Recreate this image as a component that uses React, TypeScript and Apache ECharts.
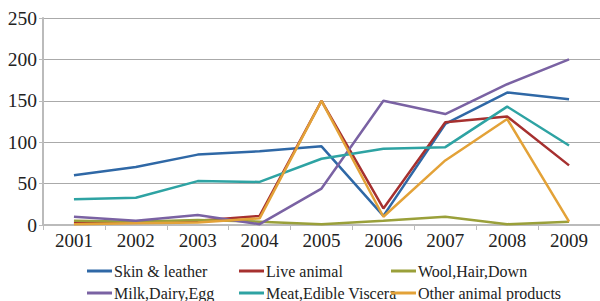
import React, { useEffect, useRef } from "react";
import * as echarts from "echarts";

const years = ["2001", "2002", "2003", "2004", "2005", "2006", "2007", "2008", "2009"];
const skinLeather = [60, 70, 85, 89, 95, 11, 122, 160, 152];
const liveAnimal = [2, 3, 5, 11, 150, 20, 124, 131, 72];
const woolHairDown = [5, 4, 6, 4, 1, 5, 10, 1, 4];
const milkDairyEgg = [10, 5, 12, 1, 44, 150, 134, 170, 200];
const meatViscera = [31, 33, 53, 52, 80, 92, 94, 143, 96];
const otherProducts = [1, 2, 3, 8, 150, 10, 78, 128, 4];

const seriesNames = [
  "Skin & leather",
  "Live animal",
  "Wool,Hair,Down",
  "Milk,Dairy,Egg",
  "Meat,Edible Viscera",
  "Other animal products",
];
const seriesData = [skinLeather, liveAnimal, woolHairDown, milkDairyEgg, meatViscera, otherProducts];
const colors = ["#2f68a6", "#a6302f", "#9aa03a", "#7a62a3", "#2ea3a3", "#e3a238"];

export default function App() {
  const ref = useRef<HTMLDivElement>(null);
  useEffect(() => {
    const chart = echarts.init(ref.current!, null, { renderer: "svg" });
    const font = "Liberation Serif";
    const legendPos = [
      { left: 87, top: 263 },
      { left: 239, top: 263 },
      { left: 391, top: 263 },
      { left: 87, top: 285 },
      { left: 239, top: 285 },
      { left: 391, top: 285 },
    ];
    chart.setOption({
      animation: false,
      color: colors,
      textStyle: { fontFamily: font },
      grid: { left: 43, right: -1, top: 18, bottom: 76 },
      xAxis: {
        type: "category",
        data: years,
        boundaryGap: true,
        axisLine: { lineStyle: { color: "#bbbbbb", width: 2 } },
        axisTick: { show: true, length: 5, lineStyle: { color: "#bbbbbb" } },
        axisLabel: { color: "#222", fontFamily: font, fontSize: 19, margin: 6 },
      },
      yAxis: {
        type: "value",
        min: 0,
        max: 250,
        interval: 50,
        axisLine: { show: true, lineStyle: { color: "#bbbbbb", width: 2 } },
        axisTick: { show: true, length: 4, lineStyle: { color: "#bbbbbb" } },
        splitLine: { lineStyle: { color: "#aaaaaa", width: 1 } },
        axisLabel: { color: "#222", fontFamily: font, fontSize: 19.5, margin: 6 },
      },
      legend: seriesNames.map((n, i) => ({
        data: [n],
        left: legendPos[i].left,
        top: legendPos[i].top,
        icon: "rect",
        itemWidth: 25,
        itemHeight: 3,
        itemGap: 0,
        padding: 0,
        textStyle: { fontFamily: font, fontSize: 16, color: "#222", padding: [0, 0, 0, -3] },
      })),
      series: seriesNames.map((n, i) => ({
        name: n,
        type: "line",
        data: seriesData[i],
        symbol: "none",
        lineStyle: { width: 2.5, color: colors[i] },
        itemStyle: { color: colors[i] },
      })),
    });
    return () => chart.dispose();
  }, []);
  return <div ref={ref} style={{ width: 600, height: 301, position: "absolute", left: 0, top: 0 }} />;
}
